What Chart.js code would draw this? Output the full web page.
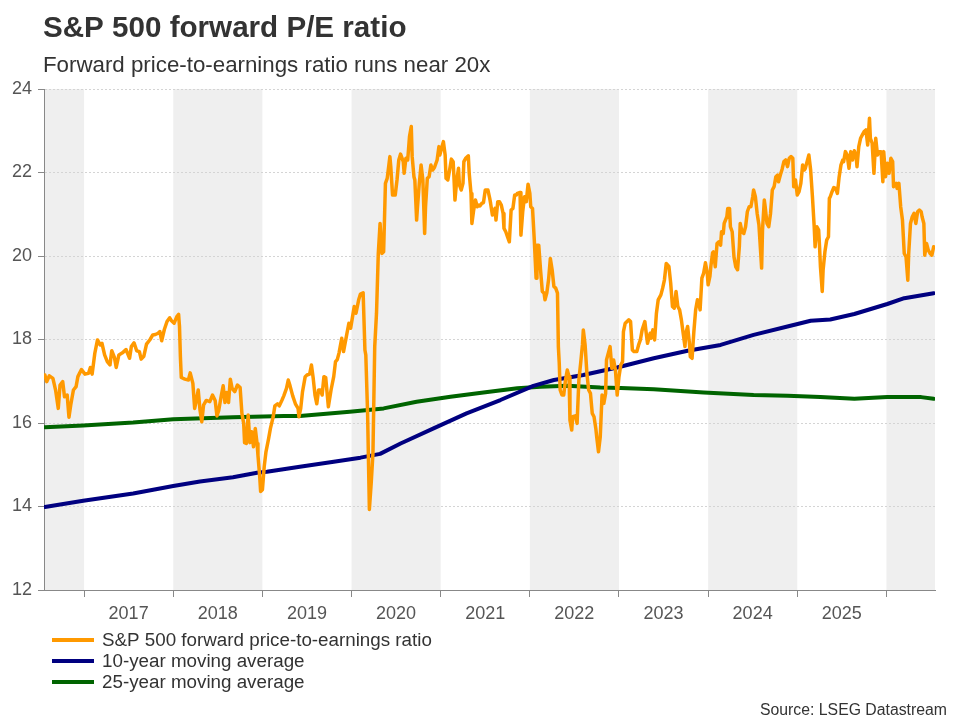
<!DOCTYPE html>
<html>
<head>
<meta charset="utf-8">
<title>S&amp;P 500 forward P/E ratio</title>
<script src="https://cdn.jsdelivr.net/npm/chart.js@4.4.1/dist/chart.umd.min.js"></script>
<style>
  html, body { margin: 0; padding: 0; background: #fff; }
</style>
</head>
<body>
<canvas id="peChart" width="960" height="720"></canvas>
<script>
// ---- data (decimal years) ----
const chartTitle = 'S&P 500 forward P/E ratio';
const chartSubtitle = 'Forward price-to-earnings ratio runs near 20x';
const sourceNote = 'Source: LSEG Datastream';
const seriesNames = ['S&P 500 forward price-to-earnings ratio', '10-year moving average', '25-year moving average'];

const yearTicks = [2017, 2018, 2019, 2020, 2021, 2022, 2023, 2024, 2025, 2026];
const yearLabels = ['2017', '2018', '2019', '2020', '2021', '2022', '2023', '2024', '2025'];
const shadedYears = [2016, 2018, 2020, 2022, 2024, 2026];

const peYears = [
  2016.56, 2016.58, 2016.61, 2016.65, 2016.68, 2016.71, 2016.73, 2016.76, 2016.78, 2016.81, 2016.83, 2016.85, 2016.88, 2016.91, 2016.93, 2016.97,
  2017.01, 2017.05, 2017.07, 2017.09, 2017.12, 2017.15, 2017.18, 2017.20, 2017.23, 2017.26, 2017.29, 2017.31, 2017.34, 2017.36, 2017.39, 2017.43,
  2017.47, 2017.51, 2017.53, 2017.56, 2017.59, 2017.62, 2017.64, 2017.67, 2017.70, 2017.74, 2017.77, 2017.80, 2017.83, 2017.85, 2017.87, 2017.90,
  2017.93, 2017.96, 2017.98, 2018.01, 2018.04, 2018.06, 2018.07, 2018.08, 2018.09, 2018.13, 2018.17, 2018.19, 2018.22, 2018.24, 2018.26, 2018.28,
  2018.30, 2018.32, 2018.34, 2018.37, 2018.41, 2018.44, 2018.47, 2018.49, 2018.51, 2018.54, 2018.56, 2018.58, 2018.60, 2018.62, 2018.64, 2018.66,
  2018.69, 2018.72, 2018.75, 2018.77, 2018.79, 2018.80, 2018.82, 2018.84, 2018.86, 2018.88, 2018.90, 2018.92, 2018.94, 2018.95, 2018.97, 2018.98,
  2019.00, 2019.02, 2019.04, 2019.07, 2019.09, 2019.12, 2019.14, 2019.17, 2019.19, 2019.22, 2019.24, 2019.27, 2019.29, 2019.31, 2019.34, 2019.37,
  2019.40, 2019.41, 2019.43, 2019.45, 2019.48, 2019.50, 2019.53, 2019.55, 2019.57, 2019.59, 2019.61, 2019.63, 2019.65, 2019.67, 2019.69, 2019.71,
  2019.74, 2019.77, 2019.80, 2019.82, 2019.84, 2019.86, 2019.89, 2019.91, 2019.94, 2019.97, 2019.99, 2020.01, 2020.03, 2020.05, 2020.08, 2020.10,
  2020.13, 2020.15, 2020.16, 2020.18, 2020.20, 2020.22, 2020.24, 2020.26, 2020.28, 2020.30, 2020.32, 2020.34, 2020.36, 2020.38, 2020.40, 2020.43,
  2020.44, 2020.46, 2020.49, 2020.51, 2020.53, 2020.55, 2020.58, 2020.59, 2020.61, 2020.63, 2020.65, 2020.67, 2020.68, 2020.70, 2020.71, 2020.73,
  2020.74, 2020.76, 2020.78, 2020.80, 2020.82, 2020.83, 2020.85, 2020.87, 2020.89, 2020.91, 2020.93, 2020.96, 2020.98, 2020.99, 2021.01, 2021.03,
  2021.05, 2021.06, 2021.08, 2021.10, 2021.12, 2021.14, 2021.15, 2021.16, 2021.18, 2021.20, 2021.21, 2021.23, 2021.25, 2021.26, 2021.28, 2021.31,
  2021.32, 2021.34, 2021.35, 2021.37, 2021.39, 2021.41, 2021.43, 2021.44, 2021.46, 2021.48, 2021.50, 2021.53, 2021.55, 2021.56, 2021.58, 2021.59,
  2021.61, 2021.62, 2021.64, 2021.66, 2021.68, 2021.70, 2021.71, 2021.73, 2021.75, 2021.77, 2021.79, 2021.81, 2021.83, 2021.85, 2021.86, 2021.89,
  2021.90, 2021.92, 2021.94, 2021.96, 2021.98, 2022.00, 2022.01, 2022.03, 2022.05, 2022.07, 2022.08, 2022.10, 2022.12, 2022.14, 2022.16, 2022.17,
  2022.19, 2022.21, 2022.23, 2022.25, 2022.27, 2022.29, 2022.31, 2022.32, 2022.33, 2022.34, 2022.36, 2022.38, 2022.40, 2022.42, 2022.44, 2022.45,
  2022.47, 2022.48, 2022.51, 2022.53, 2022.55, 2022.57, 2022.59, 2022.60, 2022.62, 2022.64, 2022.66, 2022.68, 2022.70, 2022.72, 2022.74, 2022.75,
  2022.77, 2022.79, 2022.81, 2022.83, 2022.85, 2022.86, 2022.89, 2022.90, 2022.92, 2022.94, 2022.96, 2022.98, 2023.00, 2023.02, 2023.04, 2023.05,
  2023.07, 2023.11, 2023.13, 2023.15, 2023.17, 2023.20, 2023.22, 2023.24, 2023.26, 2023.29, 2023.31, 2023.32, 2023.35, 2023.36, 2023.38, 2023.40,
  2023.42, 2023.44, 2023.47, 2023.49, 2023.51, 2023.53, 2023.56, 2023.58, 2023.60, 2023.62, 2023.64, 2023.66, 2023.68, 2023.70, 2023.72, 2023.74,
  2023.75, 2023.77, 2023.79, 2023.80, 2023.82, 2023.84, 2023.86, 2023.88, 2023.90, 2023.91, 2023.93, 2023.95, 2023.97, 2023.99, 2024.00, 2024.02,
  2024.03, 2024.05, 2024.06, 2024.08, 2024.10, 2024.12, 2024.14, 2024.15, 2024.17, 2024.18, 2024.21, 2024.22, 2024.24, 2024.25, 2024.27, 2024.29,
  2024.31, 2024.33, 2024.35, 2024.36, 2024.38, 2024.40, 2024.42, 2024.44, 2024.46, 2024.48, 2024.50, 2024.51, 2024.53, 2024.55, 2024.57, 2024.59,
  2024.60, 2024.61, 2024.63, 2024.64, 2024.66, 2024.68, 2024.70, 2024.72, 2024.74, 2024.76, 2024.78, 2024.79, 2024.81, 2024.83, 2024.85, 2024.87,
  2024.89, 2024.91, 2024.93, 2024.95, 2024.96, 2024.98, 2025.00, 2025.02, 2025.04, 2025.06, 2025.08, 2025.09, 2025.11, 2025.13, 2025.15, 2025.17,
  2025.19, 2025.20, 2025.22, 2025.24, 2025.25, 2025.26, 2025.28, 2025.29, 2025.31, 2025.33, 2025.35, 2025.36, 2025.37, 2025.39, 2025.41, 2025.43,
  2025.45, 2025.47, 2025.49, 2025.51, 2025.52, 2025.54, 2025.56, 2025.58, 2025.60, 2025.62, 2025.64, 2025.66, 2025.67, 2025.69, 2025.71, 2025.73,
  2025.75, 2025.77, 2025.79, 2025.81, 2025.82, 2025.84, 2025.86, 2025.88, 2025.90, 2025.92, 2025.94, 2025.96, 2025.97, 2025.99, 2026.01, 2026.03,
  2026.05, 2026.07, 2026.08, 2026.11, 2026.12, 2026.14, 2026.16, 2026.18, 2026.20, 2026.22, 2026.24, 2026.25, 2026.27, 2026.29, 2026.31, 2026.33,
  2026.35, 2026.37, 2026.39, 2026.40, 2026.42, 2026.43, 2026.45, 2026.47, 2026.49, 2026.51, 2026.53
];
const peValues = [
  17.15, 16.99, 17.13, 17.07, 16.79, 16.35, 16.91, 16.99, 16.63, 16.67, 16.14, 16.43, 16.79, 16.87, 17.11, 17.28,
  17.17, 17.19, 17.33, 17.17, 17.67, 17.99, 17.87, 17.91, 17.63, 17.47, 17.39, 17.73, 17.57, 17.33, 17.63, 17.68,
  17.76, 17.55, 17.83, 17.92, 17.73, 17.71, 17.53, 17.60, 17.89, 18.00, 18.11, 18.12, 18.15, 18.19, 17.97, 18.24,
  18.43, 18.52, 18.45, 18.39, 18.55, 18.60, 18.31, 17.59, 17.09, 17.05, 17.03, 17.20, 16.95, 16.35, 16.55, 16.79,
  16.31, 16.03, 16.43, 16.54, 16.51, 16.67, 16.54, 16.17, 16.30, 16.67, 16.89, 16.49, 16.73, 16.49, 17.05, 16.83,
  16.75, 16.91, 16.85, 16.23, 15.99, 15.53, 15.51, 16.19, 15.53, 15.79, 15.43, 15.87, 15.51, 15.23, 14.71, 14.36,
  14.40, 14.95, 15.31, 15.63, 15.87, 16.14, 16.41, 16.46, 16.41, 16.55, 16.65, 16.83, 17.03, 16.89, 16.65, 16.46,
  16.35, 16.15, 16.35, 16.75, 17.11, 17.15, 17.17, 17.39, 17.07, 16.67, 16.46, 16.79, 16.79, 16.67, 17.11, 17.09,
  16.39, 16.79, 17.11, 17.47, 17.52, 17.68, 18.03, 17.71, 18.05, 18.39, 18.27, 18.53, 18.79, 18.63, 18.95, 19.09,
  19.12, 17.75, 17.63, 16.23, 13.93, 14.55, 15.27, 17.83, 18.63, 20.06, 20.78, 20.06, 20.10, 21.74, 21.86, 22.38,
  22.14, 21.46, 21.46, 21.82, 22.30, 22.44, 22.26, 21.98, 22.34, 22.30, 22.86, 23.10, 22.38, 21.90, 21.82, 20.86,
  21.18, 21.74, 22.18, 21.82, 20.54, 21.18, 21.86, 21.90, 22.18, 22.06, 22.12, 22.30, 22.62, 22.42, 22.58, 22.74,
  22.42, 21.86, 21.82, 22.06, 22.32, 22.26, 21.82, 21.34, 21.82, 22.10, 21.70, 21.58, 21.74, 22.26, 22.34, 22.40,
  21.98, 21.50, 20.78, 21.10, 21.34, 21.18, 21.22, 21.20, 21.26, 21.28, 21.58, 21.58, 21.38, 21.26, 20.98, 21.02,
  21.14, 20.86, 21.30, 21.30, 21.22, 21.02, 20.66, 20.58, 20.46, 20.34, 21.10, 21.14, 21.46, 21.46, 21.50, 21.52,
  20.50, 21.06, 21.42, 21.30, 21.72, 21.50, 21.18, 21.14, 20.38, 19.47, 20.26, 20.26, 19.67, 19.15, 19.11, 18.95,
  19.11, 19.43, 19.94, 19.67, 19.27, 19.23, 19.11, 17.83, 17.43, 16.79, 16.67, 16.67, 17.03, 17.27, 17.11, 16.07,
  15.83, 16.15, 16.17, 15.99, 17.03, 17.43, 17.87, 18.23, 17.87, 17.19, 16.79, 16.71, 16.23, 16.15, 15.87, 15.67,
  15.31, 15.67, 16.67, 16.47, 16.71, 17.51, 17.75, 17.83, 17.31, 17.51, 17.27, 16.67, 17.11, 17.39, 17.47, 18.19,
  18.39, 18.47, 18.43, 17.75, 17.71, 17.71, 17.87, 17.99, 18.23, 18.43, 18.07, 17.91, 18.15, 18.03, 18.23, 17.99,
  18.63, 18.95, 19.07, 19.23, 19.43, 19.82, 19.75, 19.35, 18.79, 18.75, 19.15, 18.79, 18.71, 18.47, 18.15, 17.83,
  18.15, 18.31, 17.91, 17.59, 17.55, 18.19, 18.71, 18.95, 18.83, 18.71, 19.47, 19.59, 19.84, 19.59, 19.31, 19.51,
  19.74, 20.08, 20.10, 19.74, 20.30, 20.34, 20.26, 20.58, 20.54, 20.78, 20.94, 21.14, 21.14, 20.70, 20.58, 19.98,
  19.74, 19.67, 20.22, 20.78, 20.58, 20.54, 20.70, 21.06, 21.18, 21.18, 21.42, 21.58, 21.42, 21.02, 20.74, 20.06,
  19.71, 20.62, 21.34, 21.18, 20.78, 20.70, 21.02, 21.58, 21.66, 21.90, 21.94, 21.78, 21.94, 22.08, 22.26, 22.30,
  22.14, 22.34, 22.38, 22.34, 21.66, 21.82, 21.46, 21.54, 21.74, 22.18, 22.06, 22.10, 22.26, 22.42, 22.06, 21.42,
  20.70, 20.22, 20.70, 20.62, 20.22, 19.74, 19.15, 19.67, 20.10, 20.38, 20.46, 21.38, 21.42, 21.54, 21.64, 21.62,
  21.50, 21.90, 22.18, 22.30, 22.26, 22.50, 22.42, 22.10, 22.50, 22.30, 22.52, 22.38, 22.14, 22.62, 22.82, 22.90,
  22.98, 23.02, 22.66, 23.30, 22.82, 22.70, 21.98, 22.82, 22.42, 22.50, 22.50, 21.78, 22.50, 21.90, 22.22, 21.98,
  22.34, 22.26, 21.66, 21.74, 21.62, 21.74, 21.18, 20.86, 20.06, 19.98, 19.42, 20.06, 20.78, 20.94, 21.02, 20.78,
  21.06, 21.10, 21.06, 20.94, 20.78, 20.02, 20.30, 20.14, 20.06, 20.02, 20.22
];

const ma10Years = [2016.56, 2016.99, 2017.55, 2018.00, 2018.30, 2018.67, 2018.94, 2019.05, 2019.42, 2019.80, 2020.10, 2020.32,
  2020.55, 2020.92, 2021.29, 2021.67, 2022.04, 2022.27, 2022.60, 2022.98, 2023.39, 2023.77, 2024.14, 2024.51,
  2024.89, 2025.15, 2025.37, 2025.64, 2026.01, 2026.20, 2026.53];
const ma10Values = [13.99, 14.14, 14.31, 14.49, 14.60, 14.70, 14.81, 14.83, 14.95, 15.07, 15.17, 15.26,
  15.51, 15.87, 16.23, 16.55, 16.89, 17.03, 17.15, 17.33, 17.55, 17.73, 17.87, 18.11,
  18.31, 18.45, 18.48, 18.61, 18.85, 18.99, 19.11];

const ma25Years = [2016.56, 2016.99, 2017.55, 2018.00, 2018.67, 2019.24, 2019.42, 2019.98, 2020.36, 2020.73, 2021.11, 2021.48,
  2021.86, 2022.12, 2022.42, 2022.79, 2023.02, 2023.39, 2023.95, 2024.51, 2024.89, 2025.26, 2025.64, 2026.01,
  2026.39, 2026.53];
const ma25Values = [15.90, 15.94, 16.01, 16.09, 16.14, 16.17, 16.17, 16.27, 16.35, 16.51, 16.63, 16.73,
  16.83, 16.87, 16.89, 16.85, 16.84, 16.81, 16.73, 16.67, 16.65, 16.62, 16.58, 16.62,
  16.62, 16.58];

// ---- chart ----
const FONT = "'Liberation Sans', Arial, sans-serif";

function toPoints(xs, ys) {
  return xs.map((x, i) => ({ x: x, y: ys[i] }));
}

// white background and the grey bands behind every other year
const bands = {
  id: 'bands',
  beforeDraw(chart) {
    const { ctx, chartArea: a } = chart;
    const x = chart.scales.x;
    ctx.save();
    ctx.fillStyle = '#fff';
    ctx.fillRect(0, 0, chart.width, chart.height);
    ctx.fillStyle = '#efefef';
    shadedYears.forEach(yr => {
      const l = Math.max(a.left, x.getPixelForValue(yr));
      const r = Math.min(a.right, x.getPixelForValue(yr + 1));
      if (r > l) ctx.fillRect(l, a.top, r - l, a.bottom - a.top);
    });
    ctx.restore();
  }
};

// title, subtitle, stacked legend and source line
const texts = {
  id: 'texts',
  afterDraw(chart) {
    const ctx = chart.ctx;
    ctx.save();
    ctx.fillStyle = '#333';
    ctx.textAlign = 'left';
    ctx.textBaseline = 'alphabetic';
    ctx.font = 'bold 29.6px ' + FONT;
    ctx.fillText(chartTitle, 43, 37);
    ctx.font = '22.3px ' + FONT;
    ctx.fillText(chartSubtitle, 43, 72);

    ctx.font = '18.8px ' + FONT;
    ctx.textBaseline = 'middle';
    chart.data.datasets.forEach((ds, i) => {
      const y = 640 + i * 21;
      ctx.strokeStyle = ds.borderColor;
      ctx.lineWidth = 4;
      ctx.beginPath();
      ctx.moveTo(52, y);
      ctx.lineTo(94, y);
      ctx.stroke();
      ctx.fillText(ds.label, 102, y + 1);
    });

    ctx.font = '15.8px ' + FONT;
    ctx.textAlign = 'right';
    ctx.textBaseline = 'alphabetic';
    ctx.fillText(sourceNote, 947, 715);
    ctx.restore();
  }
};

new Chart(document.getElementById('peChart'), {
  type: 'line',
  data: {
    datasets: [
      { label: seriesNames[0], data: toPoints(peYears, peValues), borderColor: '#ff9900', borderWidth: 3.5 },
      { label: seriesNames[1], data: toPoints(ma10Years, ma10Values), borderColor: '#000080', borderWidth: 4 },
      { label: seriesNames[2], data: toPoints(ma25Years, ma25Values), borderColor: '#006400', borderWidth: 4 }
    ]
  },
  options: {
    responsive: false,
    animation: false,
    layout: { padding: { top: 89, right: 25, left: 0, bottom: 0 } },
    elements: {
      point: { radius: 0 },
      line: { tension: 0, borderJoinStyle: 'round', borderCapStyle: 'round' }
    },
    plugins: {
      legend: { display: false },
      tooltip: { enabled: false }
    },
    scales: {
      x: {
        type: 'linear',
        min: 2016.55,
        max: 2026.545,
        afterBuildTicks(scale) { scale.ticks = yearTicks.map(v => ({ value: v })); },
        afterFit(scale) { scale.height = 130; },
        grid: { drawOnChartArea: false, tickLength: 7, tickColor: '#888', color: '#888' },
        border: { color: '#888', width: 1 },
        ticks: {
          autoSkip: false,
          maxRotation: 0,
          labelOffset: 44.5,
          padding: 6,
          color: '#555',
          font: { size: 18, family: FONT },
          callback: v => yearLabels.includes(String(v)) ? String(v) : ''
        }
      },
      y: {
        min: 12,
        max: 24,
        afterFit(scale) { scale.width = 44; },
        ticks: { stepSize: 2, padding: 6, color: '#555', font: { size: 18, family: FONT } },
        grid: { color: '#d4d4d4', tickColor: '#888', tickLength: 6, tickBorderDash: [] },
        border: { color: '#888', width: 1, dash: [2, 2] }
      }
    }
  },
  plugins: [bands, texts]
});
</script>
</body>
</html>
